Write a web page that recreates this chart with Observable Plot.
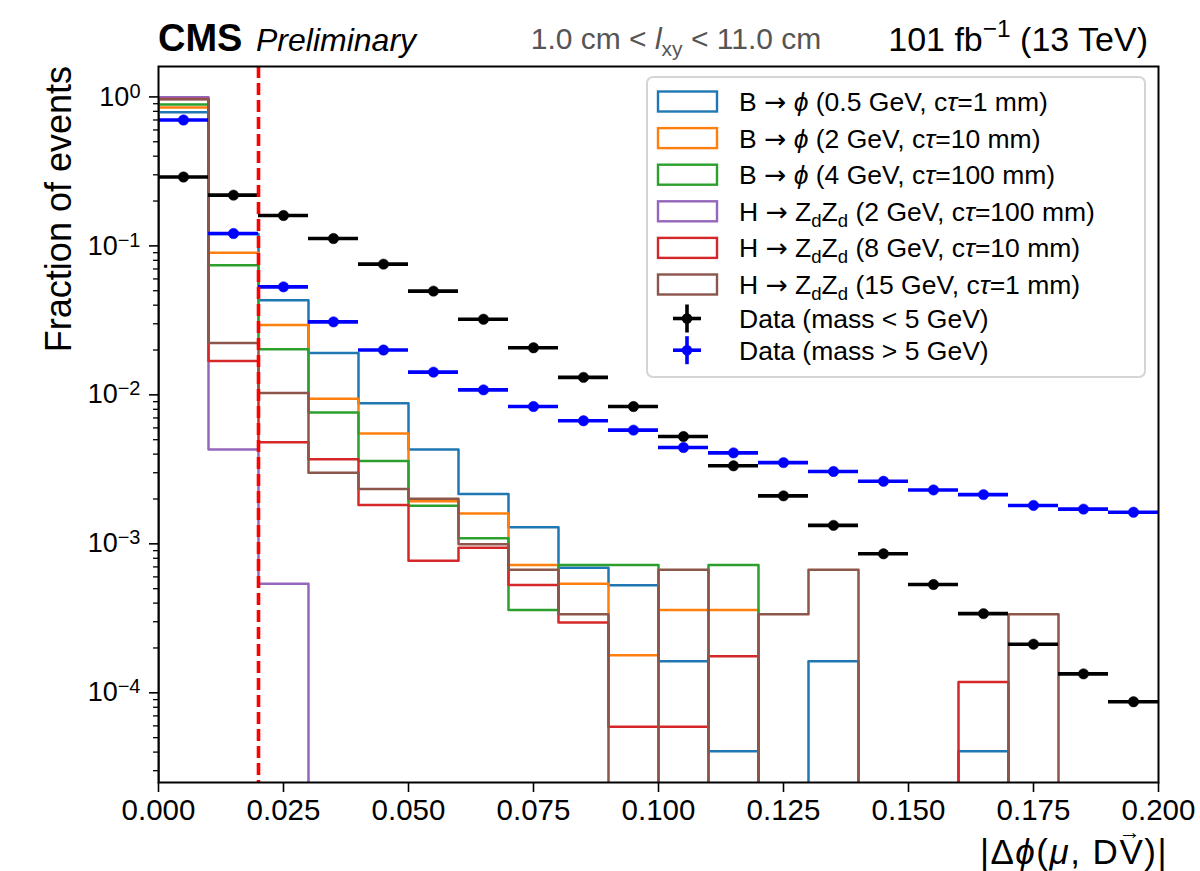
<!DOCTYPE html>
<html>
<head>
<meta charset="utf-8">
<script src="https://cdn.jsdelivr.net/npm/d3@7"></script>
<script src="https://cdn.jsdelivr.net/npm/@observablehq/plot@0.6"></script>
<style>
  html, body { margin: 0; padding: 0; background: #ffffff; }
  #chart { width: 1200px; height: 871px; }
</style>
</head>
<body>
<div id="chart"></div>
<script>
// ---------------- DATA ----------------
const binLow  = [0.00,0.01,0.02,0.03,0.04,0.05,0.06,0.07,0.08,0.09,0.10,0.11,0.12,0.13,0.14,0.15,0.16,0.17,0.18,0.19];
const binHigh = [0.01,0.02,0.03,0.04,0.05,0.06,0.07,0.08,0.09,0.10,0.11,0.12,0.13,0.14,0.15,0.16,0.17,0.18,0.19,0.20];
const binCenter = [0.005,0.015,0.025,0.035,0.045,0.055,0.065,0.075,0.085,0.095,0.105,0.115,0.125,0.135,0.145,0.155,0.165,0.175,0.185,0.195];

const xTicks = [0, 0.025, 0.05, 0.075, 0.1, 0.125, 0.15, 0.175, 0.2];
const yMajorTicks = [1, 0.1, 0.01, 0.001, 0.0001];
const yMajorLabels = ["10^{0}", "10^{−1}", "10^{−2}", "10^{−3}", "10^{−4}"];

const seriesNames = [
  "B → ϕ (0.5 GeV, cτ=1 mm)",
  "B → ϕ (2 GeV, cτ=10 mm)",
  "B → ϕ (4 GeV, cτ=100 mm)",
  "H → Z_{d}Z_{d} (2 GeV, cτ=100 mm)",
  "H → Z_{d}Z_{d} (8 GeV, cτ=10 mm)",
  "H → Z_{d}Z_{d} (15 GeV, cτ=1 mm)"
];
const seriesColors = ["#1f77b4", "#ff7f0e", "#2ca02c", "#9467bd", "#d62728", "#8c564b"];

const sigB_05GeV_1mm   = [0.79, 0.12, 0.0432, 0.0191, 0.0088, 0.0043, 0.00216, 0.00129, 0.00069, 0.000528, 0.000163, 0.0000406, 0, 0.000163, 0, 0, 0.0000406, 0, 0, 0];
const sigB_2GeV_10mm   = [0.85, 0.090, 0.0294, 0.0094, 0.0055, 0.00193, 0.0016, 0.00072, 0.00054, 0.000179, 0.000359, 0.000359, 0, 0, 0, 0, 0, 0, 0, 0];
const sigB_4GeV_100mm  = [0.89, 0.074, 0.0202, 0.0076, 0.0036, 0.0018, 0.00109, 0.00036, 0.00072, 0.00072, 0, 0.00072, 0, 0, 0, 0, 0, 0, 0, 0];
const sigH_2GeV_100mm  = [0.995, 0.0043, 0.00054, 0, 0, 0, 0, 0, 0, 0, 0, 0, 0, 0, 0, 0, 0, 0, 0, 0];
const sigH_8GeV_10mm   = [0.97, 0.0169, 0.0048, 0.0037, 0.00182, 0.00077, 0.00094, 0.00053, 0.000296, 0.0000592, 0.0000592, 0.000176, 0, 0, 0, 0, 0.000118, 0, 0, 0];
const sigH_15GeV_1mm   = [0.965, 0.0223, 0.0103, 0.0030, 0.00233, 0.00201, 0.000995, 0.00067, 0.000337, 0, 0.00067, 0, 0.000337, 0.00067, 0, 0, 0, 0.000337, 0, 0];

const dataNames = ["Data (mass < 5 GeV)", "Data (mass > 5 GeV)"];
const dataColors = ["#000000", "#0000ff"];
const dataLowMass  = [0.29, 0.219, 0.160, 0.112, 0.0754, 0.0497, 0.0322, 0.0207, 0.0131, 0.00835, 0.00525, 0.00334, 0.0021, 0.00133, 0.000857, 0.000533, 0.00034, 0.000212, 0.000134, 0.0000871];
const dataHighMass = [0.70, 0.121, 0.0531, 0.0309, 0.0200, 0.0142, 0.0108, 0.00835, 0.0067, 0.0058, 0.00443, 0.00408, 0.00351, 0.00306, 0.00263, 0.0023, 0.00214, 0.00181, 0.00171, 0.00163];

const cutValue = 0.02;

// ---------------- BUILD ----------------
const FONT = "'Liberation Sans', Arial, Helvetica, sans-serif";
const FLOOR = 1e-7;
const signals = [sigB_05GeV_1mm, sigB_2GeV_10mm, sigB_4GeV_100mm, sigH_2GeV_100mm, sigH_8GeV_10mm, sigH_15GeV_1mm];

function stepPoints(values) {
  const pts = [{x: binLow[0], y: FLOOR}];
  values.forEach((v, i) => {
    const vv = v > 0 ? v : FLOOR;
    pts.push({x: binLow[i], y: vv});
    pts.push({x: binHigh[i], y: vv});
  });
  pts.push({x: binHigh[binHigh.length - 1], y: FLOOR});
  return pts;
}

const yMinorTicks = [1e-5, 1e-4, 1e-3, 1e-2, 1e-1]
  .flatMap(d => [2,3,4,5,6,7,8,9].map(m => m * d))
  .filter(v => v > 2.5e-5 && v < 1.6);

const dataTables = [dataLowMass, dataHighMass].map(arr =>
  arr.map((v, i) => ({lo: binLow[i], hi: binHigh[i], c: binCenter[i], v}))
);

const marks = [];
signals.forEach((vals, k) => {
  marks.push(Plot.line(stepPoints(vals), {x: "x", y: "y", stroke: seriesColors[k], strokeWidth: 2.5, clip: true}));
});
dataTables.forEach((tab, k) => {
  marks.push(Plot.ruleY(tab, {y: "v", x1: "lo", x2: "hi", stroke: dataColors[k], strokeWidth: 3.6, clip: true}));
  marks.push(Plot.dot(tab, {x: "c", y: "v", r: 5.2, fill: dataColors[k], stroke: dataColors[k], strokeWidth: 0.5, clip: true}));
});
marks.push(Plot.ruleX([cutValue], {stroke: "#ff0000", strokeWidth: 3.6, strokeDasharray: "12,5"}));
marks.push(Plot.axisX(xTicks, {tickSize: 10, tickPadding: 7, tickFormat: d3.format(".3f"), fontSize: 29.5, label: null, strokeWidth: 1.6, fill: "black"}));
marks.push(Plot.axisY(yMajorTicks, {tickSize: 9, tickPadding: 9, tickFormat: (d) => yMajorLabels[yMajorTicks.indexOf(d)], fontSize: 27, label: null, strokeWidth: 1.6}));
marks.push(Plot.axisY(yMinorTicks, {tickSize: 5, tickFormat: () => "", label: null, strokeWidth: 1.3}));
marks.push(Plot.frame({stroke: "black", strokeWidth: 2}));

const chart = Plot.plot({
  width: 1200,
  height: 871,
  marginLeft: 158,
  marginRight: 42,
  marginTop: 66,
  marginBottom: 89,
  x: {domain: [0, 0.2000001]},
  y: {type: "log", domain: [2.5e-5, 1.6]},
  style: {fontFamily: FONT, background: "white", color: "black", overflow: "visible"},
  marks
});
document.getElementById("chart").appendChild(chart);

const svg = d3.select(chart);

// rich text helper: supports _{..}, ^{..}, italic for listed chars, arrow in DejaVu
function addRich(parent, str, x, y, size, attrs = {}, italicChars = "ϕτμ") {
  const t = parent.append("text")
    .attr("x", x).attr("y", y)
    .attr("font-size", size + "px")
    .attr("font-family", FONT)
    .attr("text-anchor", "start")
    .attr("fill", "black");
  Object.entries(attrs).forEach(([k, v]) => t.attr(k, v));
  let pendingDy = 0;
  const add = (txt, o = {}) => {
    const s = t.append("tspan").text(txt);
    const dy = pendingDy + (o.dy || 0);
    if (dy !== 0) s.attr("dy", dy);
    pendingDy = o.restore || 0;
    if (o.italic) s.attr("font-style", "italic");
    if (o.small) s.attr("font-size", (size * o.small) + "px");
    if (o.family) s.attr("font-family", o.family);
    return s;
  };
  let buf = "";
  const flush = () => { if (buf) { add(buf); buf = ""; } };
  let i = 0;
  while (i < str.length) {
    const c = str[i];
    if ((c === "_" || c === "^") && str[i + 1] === "{") {
      flush();
      const end = str.indexOf("}", i);
      const inner = str.slice(i + 2, end);
      if (c === "_") add(inner, {dy: 0.22 * size, restore: -0.22 * size, small: 0.7});
      else add(inner, {dy: -0.42 * size, restore: 0.42 * size, small: 0.72});
      i = end + 1;
      continue;
    }
    if (c === "→") {
      flush();
      add(c, {family: "'DejaVu Sans', sans-serif"});
      i++;
      continue;
    }
    if (italicChars.includes(c)) {
      flush();
      add(c, {italic: true});
      i++;
      continue;
    }
    buf += c;
    i++;
  }
  flush();
  return t;
}

// y tick labels with superscripts
svg.selectAll('g[aria-label="y-axis tick label"] text').each(function () {
  const el = d3.select(this);
  const s = el.text();
  const m = s.match(/^(\d+)\^\{(.+)\}$/);
  if (!m) return;
  el.text(m[1]);
  el.append("tspan").attr("dy", -8).attr("font-size", "20px").text(m[2]);
});

// titles
addRich(svg, "CMS", 158, 51, 38, {"font-weight": "bold"});
addRich(svg, "Preliminary", 256, 51, 32, {"font-style": "italic"});
addRich(svg, "1.0 cm < l_{xy} < 11.0 cm", 676, 49, 30, {"text-anchor": "middle", fill: "#555555"}, "l");
addRich(svg, "101 fb^{−1} (13 TeV)", 1148, 51, 34, {"text-anchor": "end"});

// axis labels
svg.append("text")
  .attr("transform", "translate(71,66) rotate(-90)")
  .attr("text-anchor", "end")
  .attr("font-family", FONT)
  .attr("font-size", "36px")
  .attr("fill", "black")
  .text("Fraction of events");

const xl = addRich(svg, "|Δϕ(μ, DV)|", 1168, 864, 35, {"text-anchor": "end", "letter-spacing": "1.5px"});
// vector arrow above V
try {
  const node = xl.node();
  const full = node.textContent;
  const idx = full.indexOf("V");
  const bb = node.getExtentOfChar(idx);
  svg.append("text")
    .attr("x", bb.x + bb.width / 2 - 2)
    .attr("y", bb.y + 7)
    .attr("text-anchor", "middle")
    .attr("font-family", FONT)
    .attr("font-size", "22px")
    .attr("fill", "black")
    .text("→");
} catch (e) {}

// legend
const lg = svg.append("g");
lg.append("rect")
  .attr("x", 647).attr("y", 77).attr("width", 498).attr("height", 300)
  .attr("rx", 6).attr("fill", "white").attr("fill-opacity", 0.85)
  .attr("stroke", "#d4d4d4").attr("stroke-width", 2);
seriesNames.forEach((name, k) => {
  const cy = 101.5 + k * 36.6;
  lg.append("rect")
    .attr("x", 658).attr("y", cy - 10).attr("width", 59).attr("height", 20)
    .attr("fill", "none").attr("stroke", seriesColors[k]).attr("stroke-width", 2.4);
  addRich(lg, name, 739, cy + 9.5, 26.5);
});
dataNames.forEach((name, k) => {
  const cy = 318.5 + k * 31.7;
  lg.append("line").attr("x1", 673).attr("x2", 701).attr("y1", cy).attr("y2", cy)
    .attr("stroke", dataColors[k]).attr("stroke-width", 3.6);
  lg.append("line").attr("x1", 687).attr("x2", 687).attr("y1", cy - 14).attr("y2", cy + 14)
    .attr("stroke", dataColors[k]).attr("stroke-width", 3.6);
  lg.append("circle").attr("cx", 687).attr("cy", cy).attr("r", 5.2).attr("fill", dataColors[k]);
  addRich(lg, name, 739, cy + 9.5, 26.5);
});
</script>
</body>
</html>
